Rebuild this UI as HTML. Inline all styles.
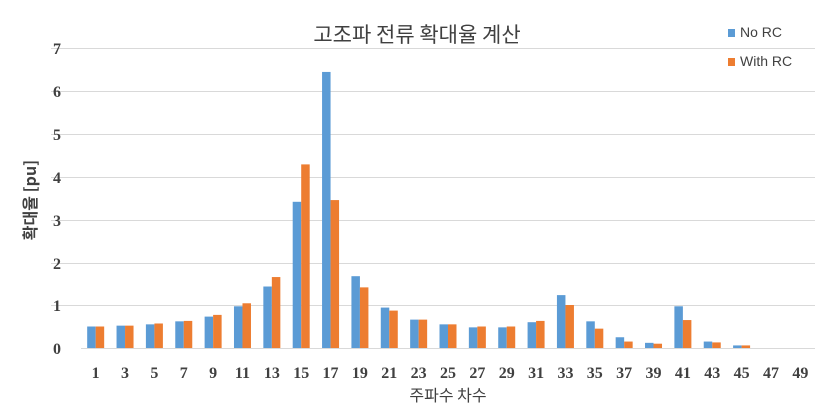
<!DOCTYPE html><html><head><meta charset="utf-8"><style>body{margin:0;background:#fff}</style></head><body>
<svg width="834" height="411" xmlns="http://www.w3.org/2000/svg" font-family="'Liberation Serif','Noto Sans CJK KR',serif">
<rect width="834" height="411" fill="#fff"/>
<g stroke="#d9d9d9" stroke-width="1">
<line x1="51" x2="815" y1="48.5" y2="48.5"/><line x1="51" x2="815" y1="91.5" y2="91.5"/><line x1="51" x2="815" y1="134.5" y2="134.5"/><line x1="51" x2="815" y1="177.5" y2="177.5"/><line x1="51" x2="815" y1="220.5" y2="220.5"/><line x1="51" x2="815" y1="263.5" y2="263.5"/><line x1="51" x2="815" y1="305.5" y2="305.5"/><line x1="81" x2="815" y1="348.5" y2="348.5"/>
</g>
<g font-size="16" font-weight="bold" fill="#404040" text-anchor="middle">
<text x="57" y="54">7</text><text x="57" y="97">6</text><text x="57" y="140">5</text><text x="57" y="183">4</text><text x="57" y="226">3</text><text x="57" y="269">2</text><text x="57" y="311">1</text><text x="57" y="354">0</text>
</g>
<g id="bars"></g>
<g id="xl" font-size="16" font-weight="bold" fill="#404040" text-anchor="middle"></g>
<text x="417" y="42" font-size="21" fill="#404040" text-anchor="middle" font-family="'Noto Sans CJK KR',sans-serif">고조파 전류 확대율 계산</text>
<text x="448" y="401" font-size="16" fill="#404040" text-anchor="middle" font-family="'Noto Sans CJK KR',sans-serif">주파수 차수</text>
<text transform="translate(36,200) rotate(-90)" font-size="16" font-weight="bold" fill="#404040" text-anchor="middle" font-family="'Noto Sans CJK KR',sans-serif">확대율 [pu]</text>
<rect x="728" y="29" width="7" height="8" fill="#5b9bd5"/><text x="740" y="37" font-size="14" fill="#404040" font-family="'Liberation Sans',sans-serif">No RC</text>
<rect x="728" y="58" width="7" height="8" fill="#ed7d31"/><text x="740" y="66" font-size="14" fill="#404040" font-family="'Liberation Sans',sans-serif">With RC</text>
</svg>
<script>
var a=[0.5,0.52,0.55,0.62,0.73,0.97,1.43,3.4,6.42,1.67,0.94,0.66,0.55,0.48,0.48,0.6,1.23,0.62,0.25,0.12,0.97,0.15,0.06,0,0];
var b=[0.5,0.52,0.57,0.63,0.77,1.04,1.65,4.27,3.44,1.41,0.87,0.66,0.55,0.5,0.5,0.63,1.0,0.45,0.15,0.1,0.65,0.13,0.06,0,0];
var s='',t='';
for(var i=0;i<25;i++){var c=81+29.36*(i+0.5);
if(a[i]>0)s+='<rect x="'+(c-8.5)+'" y="'+(348-a[i]*43)+'" width="8.5" height="'+(a[i]*43)+'" fill="#5b9bd5"/>';
if(b[i]>0)s+='<rect x="'+c+'" y="'+(348-b[i]*43)+'" width="8.5" height="'+(b[i]*43)+'" fill="#ed7d31"/>';
t+='<text x="'+c+'" y="378">'+(2*i+1)+'</text>';}
document.getElementById('bars').innerHTML=s;document.getElementById('xl').innerHTML=t;
</script>
</body></html>
